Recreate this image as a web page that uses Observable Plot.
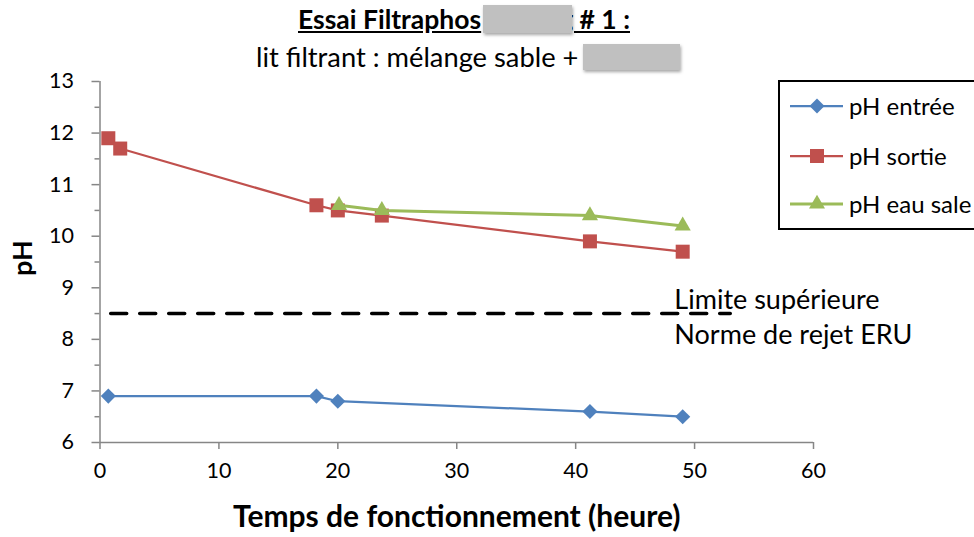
<!DOCTYPE html>
<html><head><meta charset="utf-8">
<script src="https://cdn.jsdelivr.net/npm/d3@7"></script>
<script src="https://cdn.jsdelivr.net/npm/@observablehq/plot@0.6"></script>
<style>
body{margin:0;background:#fff;font-family:Lato,sans-serif;color:#000;}
#wrap{position:relative;width:974px;height:537px;overflow:hidden;}
#chart{position:absolute;left:0;top:0;}
.abs{position:absolute;white-space:nowrap;}
.t{font-weight:bold;font-size:26.5px;text-decoration:underline;line-height:34px;top:2px;}
#titleL{left:298px;}
#titleR{right:344px;}
#subtitle{left:256px;top:40px;font-size:27.3px;line-height:34px;}
.gray{position:absolute;background:#c0c0c0;box-shadow:1px 2px 3px rgba(0,0,0,0.35);}
#legend{left:778px;top:80px;width:300px;height:146px;border:2px solid #000;border-right:none;background:#fff;}
.item{position:absolute;left:10px;height:30px;font-size:24px;line-height:30px;}
.item svg{position:absolute;left:0;top:5px;}
.item span{position:absolute;left:59px;top:0;}
</style></head><body>
<div id="wrap">
  <div id="chart"></div>
  <div id="titleL" class="abs t">Essai Filtraphos</div>
  <div id="titleR" class="abs t">g # 1 :</div>
  <div class="gray" style="left:483px;top:5px;width:89px;height:28px;"></div>
  <div id="subtitle" class="abs">lit filtrant : mélange sable +</div>
  <div class="gray" style="left:583px;top:44px;width:97px;height:26px;"></div>
  <div id="legend" class="abs"></div>
</div>
<script>
// Data
const seriesNames = ["pH entrée", "pH sortie", "pH eau sale"];
const seriesColors = ["#4F81BD", "#C0504D", "#9BBB59"];
const timeEntree = [0.7, 18.2, 20.0, 41.2, 49.0];
const phEntree   = [6.9, 6.9, 6.8, 6.6, 6.5];
const timeSortie = [0.7, 1.7, 18.2, 20.0, 23.7, 41.2, 49.0];
const phSortie   = [11.9, 11.7, 10.6, 10.5, 10.4, 9.9, 9.7];
const timeEauSale = [20.1, 23.7, 41.2, 49.0];
const phEauSale   = [10.6, 10.5, 10.4, 10.2];
const limitValue = 8.5;
const limitSpan = [0.9, 53];
const limitLabels = ["Limite supérieure", "Norme de rejet ERU"];
const limitLabelX = 48.3;
const limitLabelY = [8.75, 8.08];
const xTicks = [0, 10, 20, 30, 40, 50, 60];
const yTicks = [6, 7, 8, 9, 10, 11, 12, 13];
const yMinor = [6.5, 7.5, 8.5, 9.5, 10.5, 11.5, 12.5];
const xTitle = "Temps de fonctionnement (heure)";
const yTitle = "pH";

const entree = timeEntree.map((t, i) => ({t, ph: phEntree[i]}));
const sortie = timeSortie.map((t, i) => ({t, ph: phSortie[i]}));
const eauSale = timeEauSale.map((t, i) => ({t, ph: phEauSale[i]}));
const limitLine = limitSpan.map(t => ({t, ph: limitValue}));
const limitText = limitLabels.map((s, i) => ({t: limitLabelX, ph: limitLabelY[i], s}));
const axisGray = "#868686";

const chart = Plot.plot({
  width: 974, height: 537,
  marginLeft: 99.5, marginRight: 161, marginTop: 81, marginBottom: 95,
  x: {domain: [0, 60]},
  y: {domain: [6, 13]},
  style: {fontFamily: "Lato, sans-serif", fontSize: "21px", color: "#000", background: "transparent", overflow: "visible"},
  marks: [
    Plot.axisY({ticks: yMinor, tickSize: 5, tickFormat: () => "", stroke: axisGray, strokeWidth: 1.5, label: null}),
    Plot.axisY({ticks: yTicks, tickSize: 8, tickPadding: 18, tickFormat: d => String(d), stroke: axisGray, strokeWidth: 1.5, fill: "#000", label: null, fontSize: 21.5}),
    Plot.axisX({ticks: xTicks, tickSize: 7, tickPadding: 13, tickFormat: d => String(d), stroke: axisGray, strokeWidth: 1.5, fill: "#000", label: null, fontSize: 21.5}),
    Plot.ruleX([0], {stroke: axisGray, strokeWidth: 1.5}),
    Plot.ruleY([6], {stroke: axisGray, strokeWidth: 1.5}),
    Plot.line(limitLine, {x: "t", y: "ph", stroke: "#000", strokeWidth: 3.5, strokeDasharray: "16,13"}),
    Plot.text(limitText, {x: "t", y: "ph", text: "s", textAnchor: "start", fontSize: 27, fill: "#000"}),
    Plot.line(entree, {x: "t", y: "ph", stroke: seriesColors[0], strokeWidth: 2.25}),
    Plot.dot(entree, {x: "t", y: "ph", symbol: "diamond2", r: 6.8, fill: seriesColors[0], stroke: "none"}),
    Plot.line(sortie, {x: "t", y: "ph", stroke: seriesColors[1], strokeWidth: 2.25}),
    Plot.dot(sortie, {x: "t", y: "ph", symbol: "square", r: 7.9, fill: seriesColors[1], stroke: "none"}),
    Plot.line(eauSale, {x: "t", y: "ph", stroke: seriesColors[2], strokeWidth: 3}),
    Plot.dot(eauSale, {x: "t", y: "ph", symbol: "triangle", r: 6, fill: seriesColors[2], stroke: "none"}),
    Plot.text([yTitle], {frameAnchor: "left", dx: -77, dy: 14, rotate: -90, fontWeight: "bold", fontSize: 27}),
    Plot.text([xTitle], {frameAnchor: "bottom", dy: 84, fontWeight: "bold", fontSize: 30})
  ]
});
document.getElementById("chart").appendChild(chart);

// Legend
const symbols = [d3.symbolDiamond2, d3.symbolSquare, d3.symbolTriangle];
const symSizes = [143, 196, 111];
const widths = [2.25, 2.25, 3];
const legend = document.getElementById("legend");
const rowTops = [9, 59, 107];
seriesNames.forEach((name, i) => {
  const div = document.createElement("div");
  div.className = "item";
  div.style.top = rowTops[i] + "px";
  const path = d3.symbol(symbols[i], symSizes[i])();
  div.innerHTML = `<svg width="56" height="20" viewBox="0 0 56 20"><line x1="0" x2="53" y1="10" y2="10" stroke="${seriesColors[i]}" stroke-width="${widths[i]}"/><path d="${path}" transform="translate(27,10)" fill="${seriesColors[i]}"/></svg><span>${name}</span>`;
  legend.appendChild(div);
});
</script>
</body></html>
